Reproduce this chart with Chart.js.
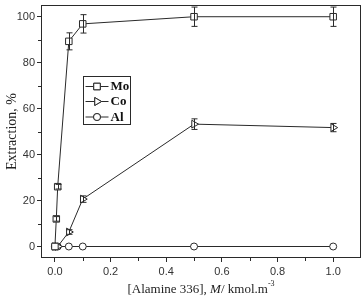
<!DOCTYPE html>
<html>
<head>
<meta charset="utf-8">
<script src="https://cdn.jsdelivr.net/npm/chart.js@4.4.1/dist/chart.umd.min.js"></script>
<style>
  html, body { margin: 0; padding: 0; background: #fff; }
  #wrap { width: 362px; height: 298px; }
</style>
</head>
<body>
<div id="wrap"><canvas id="extraction-chart" width="362" height="298"></canvas></div>
<script>
// [Alamine 336] concentrations (kmol/m3) and extraction (%)
const moX = [0, 0.005, 0.01, 0.05, 0.1, 0.5, 1.0];
const moY = [0, 12, 26, 89.2, 96.8, 99.9, 99.9];
const moErr = [0, 1, 1, 3.7, 4, 4.2, 4.2];

const coX = [0, 0.01, 0.05, 0.1, 0.5, 1.0];
const coY = [0, 0, 6.3, 20.6, 53.2, 51.7];
const coErr = [0, 0, 1, 1.4, 2.3, 1.8];

const alX = [0, 0.01, 0.05, 0.1, 0.5, 1.0];
const alY = [0, 0, 0, 0, 0, 0];

const seriesNames = ['Mo', 'Co', 'Al'];
const xTicks = [0, 0.2, 0.4, 0.6, 0.8, 1.0];
const yTicks = [0, 20, 40, 60, 80, 100];
const xMinor = [0.1, 0.3, 0.5, 0.7, 0.9];
const yMinor = [10, 30, 50, 70, 90];

const ink = '#2a2a2a';
const toPoints = (xs, ys) => xs.map((x, i) => ({ x: x, y: ys[i] }));

// no automatic label padding, the chart area is set by layout padding and afterFit
function noPad(scale) {
    scale.paddingLeft = 0;
    scale.paddingRight = 0;
    scale.paddingTop = 0;
    scale.paddingBottom = 0;
}

// frame, minor ticks, error bars, legend box and axis titles
const extras = {
    id: 'extras',
    afterDatasetsDraw(chart) {
        const ctx = chart.ctx;
        const xs = chart.scales.x, ys = chart.scales.y;
        ctx.save();
        ctx.strokeStyle = ink;
        ctx.lineWidth = 1;

        // error bars
        const bars = [[moX, moY, moErr], [coX, coY, coErr]];
        bars.forEach(function(b) {
            b[0].forEach(function(x, i) {
                const e = b[2][i];
                if (!e) return;
                const px = Math.round(xs.getPixelForValue(x)) + 0.5;
                const top = ys.getPixelForValue(b[1][i] + e);
                const bot = ys.getPixelForValue(b[1][i] - e);
                ctx.beginPath();
                ctx.moveTo(px, top); ctx.lineTo(px, bot);
                ctx.moveTo(px - 3, top); ctx.lineTo(px + 3, top);
                ctx.moveTo(px - 3, bot); ctx.lineTo(px + 3, bot);
                ctx.stroke();
            });
        });
        ctx.restore();
    },
    afterDraw(chart) {
        const ctx = chart.ctx;
        const a = chart.chartArea;
        const xs = chart.scales.x, ys = chart.scales.y;
        ctx.save();
        ctx.strokeStyle = ink;
        ctx.lineWidth = 1;

        // frame
        ctx.strokeRect(Math.round(a.left) + 0.5, Math.round(a.top) + 0.5,
            Math.round(a.right - a.left) - 1, Math.round(a.bottom - a.top) - 1);

        // minor ticks
        ctx.beginPath();
        xMinor.forEach(function(v) {
            const px = Math.round(xs.getPixelForValue(v)) + 0.5;
            ctx.moveTo(px, a.bottom); ctx.lineTo(px, a.bottom + 3);
        });
        yMinor.forEach(function(v) {
            const py = Math.round(ys.getPixelForValue(v)) + 0.5;
            ctx.moveTo(a.left, py); ctx.lineTo(a.left - 3, py);
        });
        ctx.stroke();

        // legend box
        const lx = 83.5, ly = 76.5;
        ctx.strokeRect(lx, ly, 47, 48);
        const rows = [86, 101, 116.5];
        chart.data.datasets.forEach(function(ds, i) {
            const y = rows[i];
            ctx.beginPath();
            ctx.moveTo(lx + 2, y + 0.5); ctx.lineTo(lx + 25, y + 0.5);
            ctx.stroke();
            Chart.helpers.drawPoint(ctx, {
                pointStyle: ds.pointStyle,
                radius: ds.pointRadius,
                rotation: ds.pointRotation || 0,
                borderWidth: 1
            }, lx + 13.5, y + 0.5);
            ctx.fillStyle = '#fff';
            ctx.fill();
            ctx.stroke();
            ctx.fillStyle = '#111';
            ctx.font = 'bold 13px "Liberation Serif", "Times New Roman", serif';
            ctx.textAlign = 'left';
            ctx.textBaseline = 'middle';
            ctx.fillText(seriesNames[i], lx + 27, y + 1);
        });

        // y title
        ctx.fillStyle = '#222';
        ctx.font = '14px "Liberation Serif", "Times New Roman", serif';
        ctx.save();
        ctx.translate(16, (a.top + a.bottom) / 2);
        ctx.rotate(-Math.PI / 2);
        ctx.textAlign = 'center';
        ctx.textBaseline = 'alphabetic';
        ctx.fillText('Extraction, %', 0, 0);
        ctx.restore();

        // x title with italic M and superscript -3
        const parts = [
            { t: '[Alamine 336], ', f: '13px "Liberation Serif", serif', dy: 0 },
            { t: 'M', f: 'italic 13px "Liberation Serif", serif', dy: 0 },
            { t: '/ kmol.m', f: '13px "Liberation Serif", serif', dy: 0 },
            { t: '-3', f: '8px "Liberation Serif", serif', dy: -7 }
        ];
        let total = 0;
        parts.forEach(function(p) { ctx.font = p.f; p.w = ctx.measureText(p.t).width; total += p.w; });
        let x = (a.left + a.right) / 2 - total / 2;
        ctx.textAlign = 'left';
        ctx.textBaseline = 'alphabetic';
        parts.forEach(function(p) {
            ctx.font = p.f;
            ctx.fillText(p.t, x, 293 + p.dy);
            x += p.w;
        });
        ctx.restore();
    }
};

const lineStyle = {
    showLine: true,
    borderColor: ink,
    borderWidth: 1,
    pointBorderColor: ink,
    pointBackgroundColor: '#fff',
    pointBorderWidth: 1,
    pointHoverRadius: 4,
    tension: 0
};

const ctx = document.getElementById('extraction-chart').getContext('2d');
const extractionChart = new Chart(ctx, {
    type: 'scatter',
    data: {
        datasets: [
            Object.assign({ label: seriesNames[0], data: toPoints(moX, moY), pointStyle: 'rect', pointRadius: 4.6 }, lineStyle),
            Object.assign({ label: seriesNames[1], data: toPoints(coX, coY), pointStyle: 'triangle', pointRotation: 90, pointRadius: 4.5 }, lineStyle),
            Object.assign({ label: seriesNames[2], data: toPoints(alX, alY), pointStyle: 'circle', pointRadius: 3.5 }, lineStyle)
        ]
    },
    options: {
        responsive: false,
        animation: false,
        layout: { autoPadding: false, padding: { top: 5, right: 1, left: 0, bottom: 0 } },
        plugins: {
            legend: { display: false },
            tooltip: { enabled: false }
        },
        scales: {
            x: {
                type: 'linear',
                min: -0.05,
                max: 1.1,
                afterFit: function(scale) { scale.height = 40; noPad(scale); },
                afterBuildTicks: function(scale) { scale.ticks = xTicks.map(v => ({ value: v })); },
                border: { display: false },
                grid: { drawOnChartArea: false, drawTicks: true, tickLength: 4, color: ink },
                ticks: {
                    padding: 3,
                    color: '#333',
                    font: { family: '"Liberation Sans", Arial, sans-serif', size: 11 },
                    callback: v => Number(v).toFixed(1)
                }
            },
            y: {
                type: 'linear',
                min: -5,
                max: 105,
                afterFit: function(scale) { scale.width = 41; noPad(scale); },
                afterBuildTicks: function(scale) { scale.ticks = yTicks.map(v => ({ value: v })); },
                border: { display: false },
                grid: { drawOnChartArea: false, drawTicks: true, tickLength: 4, color: ink },
                ticks: {
                    padding: 2,
                    color: '#333',
                    font: { family: '"Liberation Sans", Arial, sans-serif', size: 11 }
                }
            }
        }
    },
    plugins: [extras]
});
</script>
</body>
</html>
